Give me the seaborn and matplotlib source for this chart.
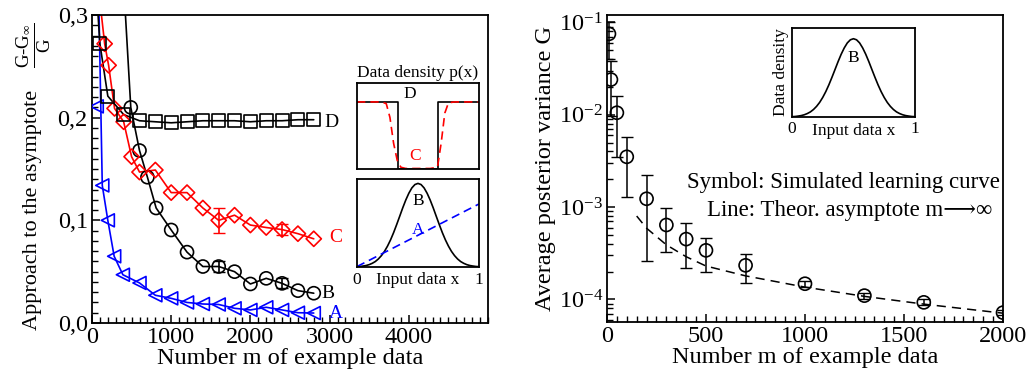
import matplotlib
matplotlib.use("Agg")
import matplotlib.pyplot as plt
import seaborn as sns
import numpy as np
from matplotlib.ticker import MultipleLocator, LogLocator, NullFormatter

# ---- left panel: approach to the asymptote ----
A_m = [60, 130, 200, 280, 390, 600, 800, 1000, 1200, 1400, 1600, 1800, 2000, 2200, 2400, 2600, 2800]
A_v = [0.211, 0.134, 0.100, 0.065, 0.047, 0.039, 0.027, 0.024, 0.020, 0.0185, 0.018, 0.0143, 0.0127, 0.0153, 0.0127, 0.010, 0.0097]
A_line_m = [82] + A_m[1:]
A_line_v = [0.33] + A_v[1:]

B_m = [490, 600, 700, 810, 1000, 1200, 1400, 1600, 1800, 2000, 2200, 2400, 2600, 2800]
B_v = [0.210, 0.168, 0.142, 0.112, 0.0906, 0.069, 0.055, 0.055, 0.050, 0.038, 0.0435, 0.0386, 0.0315, 0.029]
B_line_m = [400] + B_m
B_line_v = [0.33] + B_v

C_m = [160, 210, 285, 400, 500, 600, 800, 1000, 1200, 1400, 1600, 1800, 2000, 2200, 2400, 2600, 2800]
C_v = [0.272, 0.251, 0.209, 0.196, 0.162, 0.147, 0.149, 0.127, 0.127, 0.112, 0.100, 0.105, 0.0954, 0.093, 0.091, 0.087, 0.082]
C_line_m = [105] + C_m
C_line_v = [0.31] + C_v

D_m = [100, 200, 400, 600, 800, 1000, 1200, 1400, 1600, 1800, 2000, 2200, 2400, 2600, 2800]
D_v = [0.272, 0.221, 0.203, 0.197, 0.196, 0.195, 0.196, 0.197, 0.197, 0.197, 0.196, 0.197, 0.197, 0.198, 0.198]
D_line_m = [60] + D_m
D_line_v = [0.32] + D_v

B_err_m, B_err_v, B_err = [1600, 2400], [0.055, 0.0386], [0.005, 0.005]
C_err_m, C_err_v, C_err = [1600, 2400], [0.100, 0.091], [0.012, 0.005]

left_yticks = [0.0, 0.1, 0.2, 0.3]
left_ylabels = ["0,0", "0,1", "0,2", "0,3"]
left_xticks = [0, 1000, 2000, 3000, 4000]

# inset densities (x in [0, 1])
dens_x = [i / 40 for i in range(41)]
_half = [0.004, 0.006, 0.011, 0.017, 0.027, 0.042, 0.062, 0.091, 0.129, 0.177, 0.237,
         0.308, 0.390, 0.481, 0.576, 0.672, 0.761, 0.838, 0.899, 0.937]
density_B = _half + [0.95] + _half[::-1]
density_A_x = [0, 1]
density_A = [0.005, 0.716]
density_D_x = [0, 1 / 3, 1 / 3, 2 / 3, 2 / 3, 1]
density_D = [0.78, 0.78, 0.0, 0.0, 0.78, 0.78]
density_C_x = [0, 0.2, 0.24, 0.27, 0.3, 0.33, 0.36, 0.4, 0.6, 0.66, 0.69, 0.72, 0.75, 0.8, 1.0]
density_C = [0.78, 0.78, 0.76, 0.6, 0.3, 0.1, 0.02, 0.006, 0.006, 0.02, 0.3, 0.65, 0.77, 0.78, 0.78]

# ---- right panel: average posterior variance ----
R_m = [10, 20, 50, 100, 200, 300, 400, 500, 700, 1000, 1300, 1600, 2000]
R_v = [0.075, 0.024, 0.0105, 0.0035, 0.00123, 0.00064, 0.00045, 0.00034, 0.000234, 0.000148, 0.00011, 0.000093, 0.000072]
R_lo = [0.040, 0.0096, 0.0035, 0.0013, 0.00026, 0.00033, 0.00022, 0.00020, 0.00015, 0.000138, 0.000102, 0.000086, 0.000068]
R_hi = [0.100, 0.038, 0.016, 0.0057, 0.0022, 0.00098, 0.00068, 0.00046, 0.00031, 0.000158, 0.000118, 0.000100, 0.000076]
asym_m = [150, 200, 300, 400, 500, 700, 1000, 1300, 1600, 2000]
asym_v = [0.0008, 0.00059, 0.00039, 0.00029, 0.00023, 0.00018, 0.000136, 0.000108, 0.000089, 0.000071]

sns.set_theme(style="ticks")
plt.rcParams.update({
    "font.family": ["Liberation Serif", "DejaVu Serif"],
    "mathtext.fontset": "custom",
    "mathtext.rm": "Liberation Serif",
    "mathtext.it": "Liberation Serif:italic",
    "mathtext.bf": "Liberation Serif:bold",
    "axes.edgecolor": "black",
    "axes.linewidth": 1.3,
    "axes.labelcolor": "black",
    "text.color": "black",
    "xtick.color": "black",
    "ytick.color": "black",
    "xtick.direction": "in",
    "ytick.direction": "in",
    "font.size": 17,
    "axes.labelsize": 17.5,
    "xtick.labelsize": 17.5,
    "ytick.labelsize": 17.5,
})

fig = plt.figure(figsize=(10.30, 3.79), dpi=100)
ax1 = fig.add_axes([0.0893, 0.1478, 0.3845, 0.8126])
ax2 = fig.add_axes([0.5893, 0.1504, 0.3845, 0.8100])

ms = 88
lw = 1.2
series = [
    (A_line_m, A_line_v, A_m, A_v, "<", "#0000ff"),
    (B_line_m, B_line_v, B_m, B_v, "o", "black"),
    (C_line_m, C_line_v, C_m, C_v, "D", "#ff0000"),
    (D_line_m, D_line_v, D_m, D_v, "s", "black"),
]
for lm, lv, m, v, mk, c in series:
    sns.lineplot(x=lm, y=lv, color=c, lw=lw, ax=ax1, sort=False, estimator=None)
    size = 60 if mk == "D" else ms
    sns.scatterplot(x=m, y=v, marker=mk, s=size, facecolor="none", edgecolor=c,
                    linewidth=lw, ax=ax1, zorder=3)

ax1.errorbar(B_err_m, B_err_v, yerr=B_err, fmt="none", ecolor="black", elinewidth=lw, capsize=4)
ax1.errorbar(C_err_m, C_err_v, yerr=C_err, fmt="none", ecolor="#ff0000", elinewidth=lw, capsize=4)

ax1.text(2930, 0.1957, "D", fontsize=14, color="black", va="center")
ax1.text(2990, 0.0837, "C", fontsize=14, color="#ff0000", va="center")
ax1.text(2900, 0.029, "B", fontsize=14, color="black", va="center")
ax1.text(2990, 0.0097, "A", fontsize=14, color="#0000ff", va="center")

ax1.set_xlim(0, 5000)
ax1.set_ylim(0, 0.3)
ax1.set_xticks(left_xticks)
ax1.xaxis.set_minor_locator(MultipleLocator(100))
ax1.set_yticks(left_yticks, left_ylabels)
ax1.yaxis.set_minor_locator(MultipleLocator(0.01))
ax1.tick_params(which="major", length=6, width=1.1, pad=3)
ax1.tick_params(which="minor", length=4, width=1.0)
ax1.set_xlabel("Number m of example data", labelpad=0)
ax1.text(-0.150, 0.367, "Approach to the asymptote", fontsize=16, rotation=90,
         ha="center", va="center", transform=ax1.transAxes)
ax1.text(-0.146, 0.900, r"$\dfrac{\mathrm{G}\text{-}\mathrm{G}_{\infty}}{\mathrm{G}}$", fontsize=13.5,
         rotation=90, ha="center", va="center", transform=ax1.transAxes)

# left insets
ins1 = fig.add_axes([0.3466, 0.5541, 0.1184, 0.2269])
sns.lineplot(x=density_D_x, y=density_D, color="black", lw=1.2, ax=ins1, sort=False, estimator=None)
sns.lineplot(x=density_C_x, y=density_C, color="#ff0000", lw=1.2, ax=ins1, sort=False,
             estimator=None, linestyle=(0, (5, 3)))
ins1.text(0.38, 0.83, "D", fontsize=12.5, transform=ins1.transAxes)
ins1.text(0.43, 0.1, "C", fontsize=12.5, color="#ff0000", transform=ins1.transAxes)
ins1.set_title("Data density p(x)", fontsize=12.5, pad=4)

ins2 = fig.add_axes([0.3466, 0.2955, 0.1184, 0.2322])
sns.lineplot(x=dens_x, y=density_B, color="black", lw=1.2, ax=ins2, sort=False, estimator=None)
sns.lineplot(x=density_A_x, y=density_A, color="#0000ff", lw=1.2, ax=ins2, sort=False,
             estimator=None, linestyle=(0, (5, 3)))
ins2.text(0.5, 0.7, "B", fontsize=12.5, ha="center", transform=ins2.transAxes)
ins2.text(0.5, 0.38, "A", fontsize=12.5, color="#0000ff", ha="center", transform=ins2.transAxes)
ins2.text(0.0, -0.06, "0", fontsize=12.5, ha="center", va="top", transform=ins2.transAxes)
ins2.text(1.0, -0.06, "1", fontsize=12.5, ha="center", va="top", transform=ins2.transAxes)
ins2.text(0.5, -0.06, "Input data x", fontsize=12.5, ha="center", va="top", transform=ins2.transAxes)

for ins in (ins1, ins2):
    ins.set_xlim(0, 1)
    ins.set_ylim(0, 1)

# ---- right panel ----
sns.lineplot(x=asym_m, y=asym_v, color="black", lw=1.1, ax=ax2, estimator=None,
             linestyle=(0, (6, 4)))
R_v_a = np.array(R_v)
yerr = [R_v_a - np.array(R_lo), np.array(R_hi) - R_v_a]
ax2.errorbar(R_m, R_v, yerr=yerr, fmt="none", ecolor="black", elinewidth=1.1, capsize=4)
sns.scatterplot(x=R_m, y=R_v, marker="o", s=ms, facecolor="none", edgecolor="black",
                linewidth=lw, ax=ax2, zorder=3)
ax2.set_yscale("log")
ax2.set_xlim(0, 2000)
ax2.set_ylim(5.7e-5, 0.12)
ax2.set_xticks([0, 500, 1000, 1500, 2000])
ax2.xaxis.set_minor_locator(MultipleLocator(50))
ax2.set_yticks([1e-4, 1e-3, 1e-2, 1e-1], [r"$10^{-4}$", r"$10^{-3}$", r"$10^{-2}$", r"$10^{-1}$"])
ax2.yaxis.set_minor_locator(LogLocator(base=10, subs=np.arange(2, 10)))
ax2.yaxis.set_minor_formatter(NullFormatter())
ax2.tick_params(which="major", length=6, width=1.1, pad=3)
ax2.tick_params(which="minor", length=4, width=1.0)
ax2.set_xlabel("Number m of example data", labelpad=0)
ax2.set_ylabel("Average posterior variance G", labelpad=2)
ax2.text(0.992, 0.456, "Symbol: Simulated learning curve", fontsize=16.5, ha="right",
         va="center", transform=ax2.transAxes)
ax2.text(0.972, 0.362, "Line: Theor. asymptote m\u27f6\u221e", fontsize=16.5, ha="right",
         va="center", transform=ax2.transAxes, family=["Liberation Serif", "DejaVu Serif"])

ins3 = fig.add_axes([0.7689, 0.6913, 0.1194, 0.2348])
sns.lineplot(x=dens_x, y=density_B, color="black", lw=1.2, ax=ins3, sort=False, estimator=None)
ins3.set_xlim(0, 1)
ins3.set_ylim(0, 1.08)
ins3.text(0.5, 0.62, "B", fontsize=12.5, ha="center", transform=ins3.transAxes)
ins3.text(0.0, -0.05, "0", fontsize=12.5, ha="center", va="top", transform=ins3.transAxes)
ins3.text(1.0, -0.05, "1", fontsize=12.5, ha="center", va="top", transform=ins3.transAxes)
ins3.text(0.5, -0.07, "Input data x", fontsize=12.5, ha="center", va="top", transform=ins3.transAxes)
ins3.set_ylabel("Data density", fontsize=12.5, labelpad=2)

for ins in (ins1, ins2, ins3):
    ins.set_xticks([])
    ins.set_yticks([])
    for sp in ins.spines.values():
        sp.set_linewidth(1.3)

fig.savefig("out.png", dpi=100)
